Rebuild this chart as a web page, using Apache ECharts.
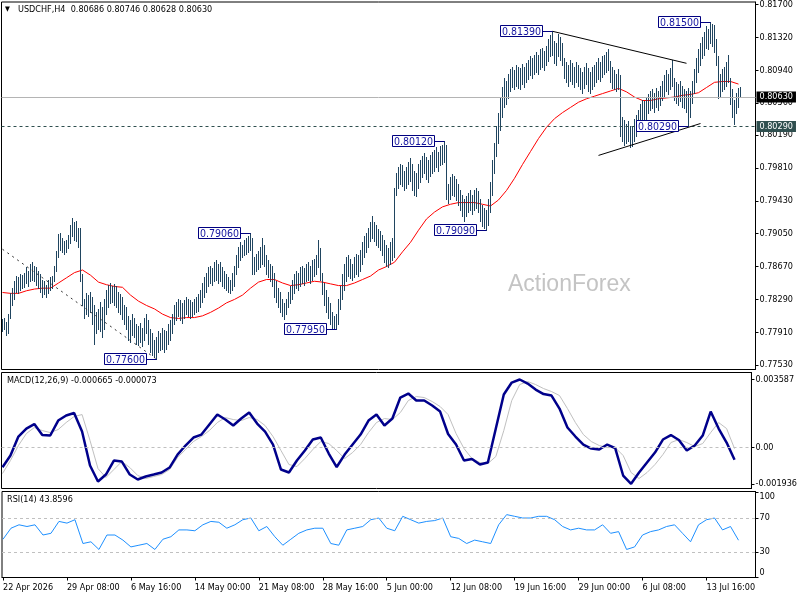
<!DOCTYPE html>
<html><head><meta charset="utf-8">
<script src="https://cdn.jsdelivr.net/npm/echarts@6/dist/echarts.min.js"></script>
<style>html,body{margin:0;padding:0;background:#fff}#c{width:800px;height:600px}</style>
</head><body><div id="c"></div>
<script>
const FONT = "'DejaVu Sans Condensed','DejaVu Sans',sans-serif";

// H4 bars, prices in 1/10000 (pips)
const barHigh = [
7806,7808,7803,7812,7836,7842,7850,7856,7855,7858,
7857,7860,7866,7862,7870,7872,7868,7866,7862,7858,
7852,7850,7846,7852,7855,7856,7868,7885,7905,7906,
7900,7896,7898,7904,7915,7923,7918,7920,7912,7912,
7858,7830,7836,7834,7838,7832,7822,7815,7818,7826,
7820,7830,7840,7846,7848,7845,7847,7845,7838,7835,
7832,7822,7820,7810,7805,7812,7808,7800,7798,7802,
7796,7808,7812,7805,7795,7790,7782,7785,7792,7790,
7796,7794,7792,7800,7805,7812,7822,7826,7830,7828,
7825,7828,7832,7830,7828,7826,7830,7832,7835,7840,
7848,7855,7860,7866,7868,7865,7872,7875,7870,7872,
7866,7862,7858,7855,7852,7860,7868,7880,7890,7895,
7892,7898,7900,7902,7906,7900,7878,7882,7885,7890,
7900,7892,7880,7875,7870,7868,7860,7850,7842,7838,
7830,7825,7830,7838,7845,7852,7858,7862,7860,7866,
7868,7865,7870,7872,7868,7874,7876,7880,7898,7888,
7860,7848,7840,7832,7825,7815,7810,7812,7830,7845,
7858,7870,7878,7880,7876,7870,7878,7882,7880,7886,
7895,7902,7906,7912,7918,7925,7918,7915,7910,7908,
7904,7898,7892,7888,7895,7900,7958,7975,7982,7986,
7984,7978,7982,7988,7992,7985,7978,7975,7985,7990,
7995,7998,7994,7990,7996,8000,8002,8005,8000,8006,
8008,8012,8008,7962,7970,7974,7972,7968,7962,7955,
7950,7945,7948,7952,7955,7950,7956,7958,7954,7945,
7938,7935,7932,7945,7965,7990,8010,8030,8045,8062,
8075,8085,8082,8090,8095,8098,8094,8100,8098,8096,
8101,8098,8102,8106,8110,8108,8112,8115,8112,8118,
8120,8116,8122,8130,8135,8139,8128,8125,8136,8132,
8126,8108,8104,8100,8106,8102,8098,8104,8100,8096,
8092,8098,8102,8096,8092,8098,8100,8104,8108,8104,
8110,8112,8115,8119,8105,8098,8094,8090,8095,8088,
8040,8036,8032,8035,8030,8028,8038,8042,8048,8055,
8060,8058,8062,8066,8070,8072,8068,8074,8070,8076,
8082,8088,8094,8090,8096,8106,8085,8080,8078,8082,
8076,8072,8070,8074,8070,8082,8095,8108,8118,8126,
8132,8138,8145,8142,8150,8148,8146,8130,8110,8090,
8095,8098,8104,8112,8085,8072,8060,8068,8074,8075
];
const barLow = [
7792,7795,7788,7790,7808,7822,7830,7838,7836,7840,
7842,7843,7848,7845,7850,7852,7850,7846,7842,7838,
7832,7835,7832,7836,7840,7842,7850,7862,7878,7886,
7884,7882,7884,7888,7894,7902,7898,7896,7890,7850,
7822,7808,7812,7810,7815,7800,7778,7790,7795,7792,
7785,7795,7812,7820,7825,7826,7822,7820,7815,7812,
7806,7800,7795,7782,7780,7788,7785,7778,7776,7780,
7775,7782,7790,7778,7768,7765,7762,7760,7768,7770,
7772,7768,7772,7778,7782,7790,7800,7805,7810,7805,
7802,7808,7812,7810,7808,7810,7812,7814,7816,7820,
7826,7832,7838,7845,7848,7846,7850,7852,7848,7850,
7845,7842,7840,7838,7836,7840,7845,7858,7866,7874,
7878,7880,7882,7884,7886,7858,7858,7862,7864,7866,
7870,7868,7858,7855,7850,7845,7832,7826,7820,7815,
7810,7806,7812,7820,7825,7830,7836,7842,7840,7845,
7848,7846,7850,7852,7848,7852,7856,7858,7866,7852,
7835,7822,7815,7808,7800,7796,7796,7795,7800,7818,
7830,7840,7850,7856,7854,7852,7855,7858,7856,7862,
7870,7878,7884,7890,7896,7900,7896,7892,7890,7886,
7880,7872,7868,7866,7870,7875,7878,7950,7958,7962,
7960,7956,7958,7962,7966,7955,7950,7948,7958,7965,
7970,7975,7968,7965,7972,7975,7978,7982,7978,7984,
7986,7988,7945,7940,7945,7950,7948,7944,7938,7932,
7926,7920,7925,7930,7932,7928,7932,7935,7930,7920,
7914,7912,7909,7915,7930,7950,7975,7995,8010,8025,
8040,8052,8055,8062,8070,8075,8072,8076,8074,8072,
8078,8075,8080,8084,8088,8085,8090,8092,8090,8095,
8098,8094,8100,8105,8110,8112,8102,8100,8110,8106,
8100,8085,8080,8076,8082,8078,8075,8080,8076,8072,
8068,8074,8078,8070,8068,8072,8076,8080,8084,8082,
8086,8090,8092,8094,8080,8074,8072,8070,8072,8018,
8012,8008,8010,8012,8005,8006,8012,8018,8024,8030,
8035,8034,8038,8044,8048,8050,8046,8052,8048,8054,
8060,8064,8070,8066,8072,8076,8060,8056,8054,8058,
8052,8050,8046,8029,8040,8056,8068,8080,8092,8100,
8108,8112,8120,8118,8125,8122,8115,8100,8062,8064,
8070,8072,8076,8080,8055,8040,8032,8045,8052,8063
];

// indicator readings, one value every SAMPLE_STEP bars
const SAMPLE_STEP = 4;
const maValues = [
7837,7836,7836,7839,7841,7842,7842,7848,7854,7860,
7863,7857,7849,7846,7844,7843,7834,7827,7822,7818,
7812,7808,7807,7808,7808,7810,7814,7819,7825,7829,
7834,7842,7849,7852,7852,7848,7845,7846,7848,7850,
7849,7847,7845,7845,7848,7852,7856,7863,7867,7872,
7884,7895,7909,7922,7930,7936,7939,7941,7941,7941,
7939,7937,7944,7955,7969,7985,8000,8015,8028,8038,
8045,8051,8057,8061,8064,8067,8070,8073,8069,8063,
8059,8059,8061,8062,8063,8065,8066,8068,8074,8080,
8081,8081,8078
];
// MACD in millionths
const macdMain = [
-1059,-440,567,990,1228,646,620,1414,1679,1811,
831,-969,-1816,-1446,-704,-757,-1446,-1710,-1551,-1446,
-1340,-1075,-387,90,514,672,1202,1731,1467,1149,
1520,1837,1255,831,143,-1181,-1340,-704,-175,408,
514,-334,-1048,-387,143,672,1414,1731,1149,1520,
2632,2843,2473,2473,2208,1890,699,143,-704,-625,
-916,-810,990,2790,3426,3587,3373,3055,2817,2738,
2049,1043,567,143,-69,-122,143,-42,-1498,-1936,
-1340,-810,-281,408,646,381,-175,90,620,1890,
990,249,-665
];
const macdSignal = [
-1393,-704,90,725,1043,884,778,937,1308,1626,
1731,355,-1128,-1604,-1181,-757,-1075,-1498,-1657,-1551,
-1446,-1181,-545,-122,302,567,884,1308,1573,1467,
1414,1573,1467,1149,567,-175,-916,-1022,-598,-122,
302,196,-175,-598,-281,143,778,1308,1520,1467,
1837,2473,2685,2632,2420,2155,1731,725,-69,-598,
-810,-863,-492,884,2473,3320,3479,3320,3108,2949,
2738,2049,1308,672,302,90,-16,-16,-439,-1340,
-1657,-1340,-916,-387,249,408,249,37,196,778,
1308,990,-73
];
const rsiValues = [
45,58,62,60,62,50,52,66,64,68,
40,42,33,50,50,44,36,38,40,33,
45,48,56,56,55,62,66,65,58,62,
68,70,55,60,48,38,45,52,56,58,
58,40,38,56,58,60,68,70,58,55,
72,68,64,66,67,70,48,46,40,44,
42,40,62,74,72,70,70,72,72,68,
60,56,58,56,56,62,52,54,33,36,
50,54,56,60,62,52,42,62,68,70,
56,60,43.86
];

const xTickLabels = ['22 Apr 2026','29 Apr 08:00','6 May 16:00','14 May 00:00','21 May 08:00','28 May 16:00','5 Jun 00:00','12 Jun 08:00','19 Jun 16:00','29 Jun 00:00','6 Jul 08:00','13 Jul 16:00'];
const X_LABEL_EVERY = 32;
const priceTicks = [0.8170,0.8132,0.8094,0.8056,0.8019,0.7981,0.7943,0.7905,0.7867,0.7829,0.7791,0.7753];
const macdTicks = [0.003587, 0, -0.001936];
const rsiTicks = [100, 70, 30, 0];
const rsiLevels = [70, 30];

const lastOHLC = [0.80686, 0.80746, 0.80628, 0.80630];
const macdLast = [-0.000665, -0.000073];
const rsiLast = 43.8596;
const bidPrice = 0.80630;
const supportPrice = 0.80290;

const annoIdx = [275, 354, 221, 242, 124, 167, 77, 343];
const annoPrice = [0.8139, 0.8150, 0.8012, 0.7909, 0.7906, 0.7795, 0.7760, 0.8029];
const trendUpper = [[275, 0.8139], [342, 0.8102]];
const trendLower = [[298, 0.79955], [349, 0.80324]];
const trendDotted = [[0, 0.7887], [77, 0.7760]];

// ---- build ----
const N_BARS = barHigh.length;
const N_CAT = 377;
const cats = Array.from({length: N_CAT}, (_, i) => String(i));
const bars = barHigh.map((h, i) => [i, h / 10000, barLow[i] / 10000]);
function spread(vals, scale) {
  const out = new Array(N_BARS).fill(null);
  vals.forEach((v, k) => { const i = Math.min(k * SAMPLE_STEP, N_BARS - 1); out[i] = v * scale; });
  return out;
}
const maFull = spread(maValues, 1 / 10000);
const macdFull = spread(macdMain, 1e-6);
const sigFull = spread(macdSignal, 1e-6);
const rsiFull = spread(rsiValues, 1);

const BAR_COLOR = '#204560';
const txt = (size) => ({fontFamily: FONT, fontSize: size, color: '#000'});
const tickFn = (i) => i % X_LABEL_EVERY === 0 && i < N_BARS;
const hiddenX = (gi) => ({type: 'category', gridIndex: gi, data: cats, boundaryGap: true,
  axisLine: {show: false}, axisTick: {show: false}, axisLabel: {show: false}, splitLine: {show: false}});
const tl = (pts, style) => [
  {coord: [String(pts[0][0]), pts[0][1]], lineStyle: style, label: {show: false}},
  {coord: [String(pts[1][0]), pts[1][1]]}];
const priceTag = (bg) => ({show: true, position: 'end', distance: 1, backgroundColor: bg, color: '#fff',
  padding: [1, 3, 0, 3], fontFamily: FONT, fontSize: 9, lineHeight: 10});

const chart = echarts.init(document.getElementById('c'), null, {renderer: 'canvas'});
chart.setOption({
  animation: false,
  backgroundColor: '#fff',
  title: [
    {text: '{t|▼}USDCHF,H4  ' + lastOHLC.map(v => v.toFixed(5)).join(' '), left: 5, top: 5, padding: 0,
     textStyle: Object.assign(txt(9), {fontWeight: 'normal', rich: {t: {fontSize: 7, width: 13, fontFamily: FONT, color: '#000'}}})},
    {text: 'MACD(12,26,9) ' + macdLast.map(v => v.toFixed(6)).join(' '), left: 7, top: 376, padding: 0,
     textStyle: Object.assign(txt(9), {fontWeight: 'normal'})},
    {text: 'RSI(14) ' + rsiLast.toFixed(4), left: 7, top: 495, padding: 0,
     textStyle: Object.assign(txt(9), {fontWeight: 'normal'})}
  ],
  graphic: [{type: 'text', left: 508, top: 273, z: 0, silent: true,
    style: {text: 'ActionForex', fill: '#c4c4c4', font: "23px 'Liberation Sans', Arial, sans-serif"}}],
  grid: [
    {left: 1.5, top: 1.5, width: 754, height: 368, show: true, borderColor: '#000', borderWidth: 1},
    {left: 1.5, top: 372.5, width: 754, height: 116, show: true, borderColor: '#000', borderWidth: 1},
    {left: 1.5, top: 491.5, width: 754, height: 86, show: true, borderColor: '#000', borderWidth: 1}
  ],
  xAxis: [hiddenX(0), hiddenX(1), {
    type: 'category', gridIndex: 2, data: cats, boundaryGap: true,
    axisLine: {show: true, lineStyle: {color: '#000', width: 1}},
    axisTick: {show: true, alignWithLabel: true, interval: tickFn, length: 3, lineStyle: {color: '#000'}},
    axisLabel: Object.assign(txt(9), {interval: tickFn, align: 'left', margin: 6,
      formatter: (v, i) => xTickLabels[Math.round(Number(v) / X_LABEL_EVERY)] || ''}),
    splitLine: {show: false}
  }],
  yAxis: [
    {type: 'value', gridIndex: 0, position: 'right', min: 0.774796, max: 0.817288,
     axisLine: {show: true, lineStyle: {color: '#000'}},
     axisTick: {show: true, length: 3, customValues: priceTicks, lineStyle: {color: '#000'}},
     axisLabel: Object.assign(txt(9), {customValues: priceTicks, margin: 4, formatter: v => v.toFixed(5)}),
     splitLine: {show: false}},
    {type: 'value', gridIndex: 1, position: 'right', min: -0.002185, max: 0.003958,
     axisLine: {show: true, lineStyle: {color: '#000'}},
     axisTick: {show: true, length: 3, customValues: macdTicks, lineStyle: {color: '#000'}},
     axisLabel: Object.assign(txt(9), {customValues: macdTicks, margin: 4,
       formatter: v => (Math.abs(v) < 1e-9 ? '0.00' : v.toFixed(6))}),
     splitLine: {show: false}},
    {type: 'value', gridIndex: 2, position: 'right', min: 0, max: 101.2,
     axisLine: {show: true, lineStyle: {color: '#000'}},
     axisTick: {show: true, length: 3, customValues: rsiTicks, lineStyle: {color: '#000'}},
     axisLabel: Object.assign(txt(9), {customValues: rsiTicks, margin: 4,
       formatter: v => (v >= 100 ? '\n' + v : v <= 0 ? v + '\n' : String(v))}),
     splitLine: {show: false}}
  ],
  series: [
    {
      type: 'line', name: 'MA', xAxisIndex: 0, yAxisIndex: 0, data: maFull, connectNulls: true,
      showSymbol: false, symbol: 'none', z: 2,
      lineStyle: {color: '#ff0000', width: 1},
      markLine: {
        silent: true, symbol: ['none', 'none'], animation: false, precision: 6,
        data: [
          {yAxis: bidPrice, lineStyle: {color: '#b4b4b4', type: 'solid', width: 1},
           label: Object.assign(priceTag('#000'), {formatter: bidPrice.toFixed(5)})},
          {yAxis: supportPrice, lineStyle: {color: '#2f4f4f', type: [3, 3], width: 1},
           label: Object.assign(priceTag('#2f4f4f'), {formatter: supportPrice.toFixed(5)})},
          tl(trendUpper, {color: '#000', type: 'solid', width: 1}),
          tl(trendLower, {color: '#000', type: 'solid', width: 1}),
          tl(trendDotted, {color: '#333', type: [2, 4], width: 1})
        ]
      }
    },
    {
      type: 'custom', name: 'bars', xAxisIndex: 0, yAxisIndex: 0, data: bars, z: 3,
      encode: {x: 0, y: [1, 2]},
      renderItem: (params, api) => {
        const hi = api.coord([api.value(0), api.value(1)]);
        const lo = api.coord([api.value(0), api.value(2)]);
        const x = Math.floor(hi[0]) + 0.5;
        return {type: 'line', shape: {x1: x, y1: Math.round(hi[1]), x2: x, y2: Math.round(lo[1]) + 1},
          style: {stroke: BAR_COLOR, lineWidth: 1}};
      }
    },
    {
      type: 'custom', name: 'labels', xAxisIndex: 0, yAxisIndex: 0, z: 5,
      data: annoIdx.map((i, k) => [i, annoPrice[k]]),
      encode: {x: 0, y: 1},
      renderItem: (params, api) => {
        const p = api.coord([api.value(0), api.value(1)]);
        const bx = Math.floor(p[0]) + 0.5, by = Math.round(p[1]) + 0.5;
        const right = bx - 10, w = 42, h = 11;
        return {type: 'group', children: [
          {type: 'line', shape: {x1: right, y1: by, x2: bx, y2: by}, style: {stroke: '#000080', lineWidth: 1}},
          {type: 'rect', shape: {x: right - w, y: by - 6, width: w, height: h}, style: {fill: '#fff', stroke: '#000080', lineWidth: 1}},
          {type: 'text', style: {text: Number(api.value(1)).toFixed(5), x: right - w / 2, y: by + 0.5,
            align: 'center', verticalAlign: 'middle', fill: '#1414a0', font: '10.5px ' + FONT}}
        ]};
      }
    },
    {
      type: 'line', name: 'Signal', xAxisIndex: 1, yAxisIndex: 1, data: sigFull, connectNulls: true,
      showSymbol: false, symbol: 'none', z: 2, lineStyle: {color: '#c0c0c0', width: 1},
      markLine: {silent: true, symbol: ['none', 'none'], label: {show: false}, precision: 6,
        lineStyle: {color: '#c0c0c0', type: [3, 3], width: 1}, data: [{yAxis: 0}]}
    },
    {
      type: 'line', name: 'MACD', xAxisIndex: 1, yAxisIndex: 1, data: macdFull, connectNulls: true,
      showSymbol: false, symbol: 'none', z: 3, lineStyle: {color: '#00008b', width: 2.5}
    },
    {
      type: 'line', name: 'RSI', xAxisIndex: 2, yAxisIndex: 2, data: rsiFull, connectNulls: true,
      showSymbol: false, symbol: 'none', z: 3, lineStyle: {color: '#1e90ff', width: 1},
      markLine: {silent: true, symbol: ['none', 'none'], label: {show: false}, precision: 2,
        lineStyle: {color: '#c0c0c0', type: [3, 3], width: 1}, data: rsiLevels.map(v => ({yAxis: v}))}
    }
  ]
});
</script></body></html>
